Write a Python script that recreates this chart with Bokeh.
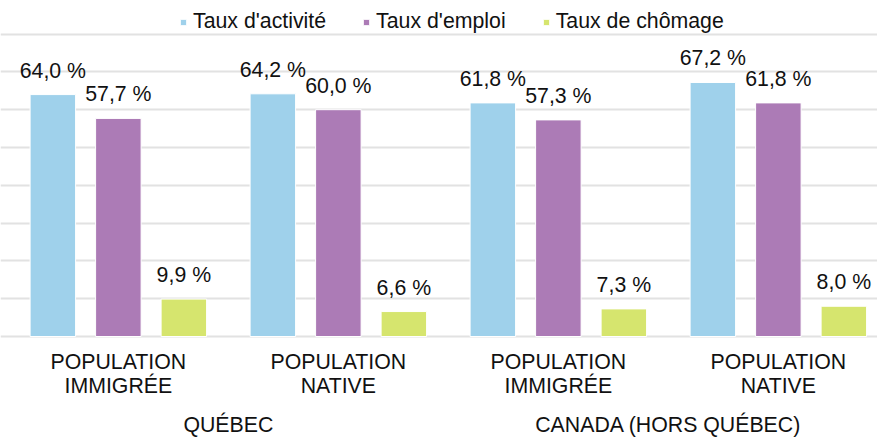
from bokeh.plotting import figure
from bokeh.models import ColumnDataSource, FixedTicker, Legend, LegendItem, Range1d
from bokeh.core.properties import value
from bokeh.embed import file_html
from bokeh.resources import INLINE

# ---- data ----
regions = ["QUÉBEC", "CANADA (HORS QUÉBEC)"]
group_region = [0, 0, 1, 1]
group_line1 = ["POPULATION", "POPULATION", "POPULATION", "POPULATION"]
group_line2 = ["IMMIGRÉE", "NATIVE", "IMMIGRÉE", "NATIVE"]
series_names = ["Taux d'activité", "Taux d'emploi", "Taux de chômage"]
taux_activite = [64.0, 64.2, 61.8, 67.2]
taux_emploi = [57.7, 60.0, 57.3, 61.8]
taux_chomage = [9.9, 6.6, 7.3, 8.0]
y_ticks = [0, 10, 20, 30, 40, 50, 60, 70, 80]

series_values = [taux_activite, taux_emploi, taux_chomage]
colors = ["#9FD1EB", "#AC7BB6", "#D6E56E"]

FONT = "Liberation Sans"
FS = "21.3px"
W, H = 877, 437

# pixel geometry of the reference
px_per_unit_x = 220.0
left_to_first_center = 117.85
px_per_unit_y = 3.78
baseline_from_top = 336.0  # px from top to value 0

x_start = -left_to_first_center / px_per_unit_x
x_end = x_start + W / px_per_unit_x
y_end = baseline_from_top / px_per_unit_y
y_start = -(H - baseline_from_top) / px_per_unit_y

p = figure(width=W, height=H, output_backend="svg", toolbar_location=None,
           x_range=Range1d(x_start, x_end), y_range=Range1d(y_start, y_end),
           min_border=0, min_border_left=0, min_border_right=0,
           min_border_top=0, min_border_bottom=0)
p.outline_line_color = None
p.background_fill_color = "white"
p.border_fill_color = "white"

p.xaxis.visible = False
p.yaxis.visible = False
p.xgrid.visible = False
p.yaxis.ticker = FixedTicker(ticks=y_ticks)
p.ygrid.grid_line_color = "#E2E2E2"
p.ygrid.grid_line_width = 2

offset = 65.5 / px_per_unit_x
bar_w = 45.5 / px_per_unit_x
n_groups = len(taux_activite)

items = []
for j, (name, vals, col) in enumerate(zip(series_names, series_values, colors)):
    xs = [g + (j - 1) * offset for g in range(n_groups)]
    src = ColumnDataSource(dict(x=xs, top=vals,
                                lab=[f"{v:.1f} %".replace(".", ",") for v in vals]))
    r = p.vbar(x="x", top="top", bottom=0, width=bar_w, source=src,
               fill_color=col, line_color="white", line_width=1)
    p.text(x="x", y="top", text="lab", source=src, text_align="center",
           text_baseline="alphabetic", y_offset=-24, text_font=value(FONT),
           text_font_size=FS, text_color="#111111")
    items.append(LegendItem(label=name, renderers=[r]))

# category labels
gsrc = ColumnDataSource(dict(x=list(range(n_groups)), y=[0] * n_groups,
                             l1=group_line1, l2=group_line2))
p.text(x="x", y="y", text="l1", source=gsrc, text_align="center",
       text_baseline="alphabetic", y_offset=25, text_font=value(FONT),
       text_font_size=FS, text_color="#111111")
p.text(x="x", y="y", text="l2", source=gsrc, text_align="center",
       text_baseline="alphabetic", y_offset=49, text_font=value(FONT),
       text_font_size=FS, text_color="#111111")

reg_x = []
for ri in range(len(regions)):
    gs = [g for g in range(n_groups) if group_region[g] == ri]
    reg_x.append(sum(gs) / len(gs))
rsrc = ColumnDataSource(dict(x=reg_x, y=[0] * len(regions), t=regions))
p.text(x="x", y="y", text="t", source=rsrc, text_align="center",
       text_baseline="alphabetic", y_offset=88, text_font=value(FONT),
       text_font_size=FS, text_color="#111111")

legend = Legend(items=items, orientation="horizontal", location=(179, 403),
                glyph_width=8, glyph_height=8, label_standoff=6, spacing=36,
                padding=0, margin=0, border_line_color=None,
                background_fill_alpha=0, label_text_font=FONT,
                label_text_font_size=FS, label_text_color="#111111")
p.add_layout(legend, "center")

open("out.html", "w").write(file_html(p, INLINE))
